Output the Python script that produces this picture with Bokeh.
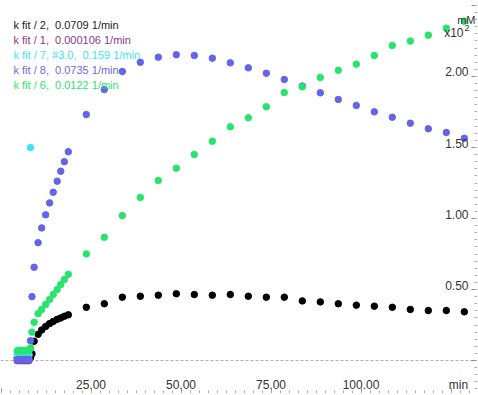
from bokeh.plotting import figure
from bokeh.models import LinearAxis, Range1d, Span, SingleIntervalTicker
from bokeh.core.properties import value
from bokeh.embed import file_html
from bokeh.resources import INLINE

FONT = "Liberation Sans"

# ---- data (time in min, concentration in mM x10^2) ----
t_flat = [4.5, 4.8, 5.1, 5.4, 5.7, 6.0, 6.3, 6.6, 6.9, 7.2, 7.5, 7.8]
t_main = [4.5, 4.8, 5.1, 5.4, 5.7, 6.0, 6.3, 6.6, 6.9, 7.2, 7.5, 7.8,
          8.2, 8.6, 9.2,
          10.3, 11.3, 12.4, 13.5, 14.5, 15.6, 16.6, 17.6, 18.7,
          23.7, 28.7, 33.7, 38.7, 43.7, 48.7, 53.7, 58.7, 63.7, 68.7, 73.7,
          78.7, 83.7, 88.7, 93.7, 98.7, 103.7, 108.7, 113.7, 118.7, 123.7, 128.7]

fit2_black = [0.02, 0.02, 0.02, 0.02, 0.02, 0.02, 0.02, 0.02, 0.02, 0.02, 0.02, 0.02,
              0.02, 0.047, 0.136,
              0.185, 0.215, 0.24, 0.26, 0.275, 0.29, 0.30, 0.312, 0.322,
              0.375, 0.40, 0.446, 0.453, 0.46, 0.47, 0.465, 0.46, 0.465, 0.453, 0.446,
              0.446, 0.42, 0.413, 0.40, 0.39, 0.383, 0.375, 0.36, 0.352, 0.352, 0.343]

fit8_blue = [0.005, 0.008, 0.006, 0.007, 0.008, 0.006, 0.007, 0.005, 0.008, 0.007, 0.006, 0.008,
             0.14, 0.45, 0.657,
             0.83, 0.934, 1.026, 1.11, 1.185, 1.263, 1.333, 1.40, 1.47,
             1.732, 1.908, 2.035, 2.10, 2.136, 2.153, 2.148, 2.129, 2.096, 2.061, 2.023,
             1.979, 1.933, 1.885, 1.838, 1.796, 1.751, 1.713, 1.671, 1.632, 1.606, 1.565]

fit6_green = [0.068, 0.071, 0.07, 0.069, 0.072, 0.07, 0.068, 0.071, 0.07, 0.069, 0.071, 0.07,
              0.09, 0.20, 0.27,
              0.33, 0.36, 0.395, 0.43, 0.465, 0.50, 0.535, 0.57, 0.607,
              0.751, 0.868, 1.021, 1.148, 1.268, 1.354, 1.451, 1.544, 1.646, 1.709, 1.787,
              1.887, 1.927, 1.993, 2.044, 2.087, 2.148, 2.218, 2.249, 2.291, 2.340, 2.389]

fit1_purple = [0.0, 0.0, 0.0, 0.0, 0.0, 0.0, 0.0, 0.0, 0.0, 0.0, 0.0, 0.0]

t_cyan = [4.5, 4.8, 5.1, 5.4, 5.7, 6.0, 6.3, 6.6, 6.9, 7.2, 7.5, 7.8, 8.2]
fit7_cyan = [0.04, 0.041, 0.039, 0.04, 0.042, 0.04, 0.039, 0.041, 0.04, 0.04, 0.041, 0.04, 1.50]

legend_texts = ["k fit / 2,\u00a0 0.0709 1/min",
                "k fit / 1,\u00a0 0.000106 1/min",
                "k fit / 7, #3.0,\u00a0 0.159 1/min",
                "k fit / 8,\u00a0 0.0735 1/min",
                "k fit / 6,\u00a0 0.0122 1/min"]
legend_colors = ["#1a1a1a", "#8a3a8a", "#3ce6f0", "#6a6ae6", "#2ee46e"]

y_ticks = [0.5, 1.0, 1.5, 2.0]
y_tick_labels = ["0.50", "1.00", "1.50", "2.00"]
x_ticks = [25, 50, 75, 100]
x_tick_labels = ["25.00", "50.00", "75.00", "100.00"]

# ---- figure ----
x_start, x_end = -0.14, 132.36
y_start, y_end = -0.232, 2.535

p = figure(frame_width=477, frame_height=393, output_backend="svg", toolbar_location=None,
           x_range=Range1d(x_start, x_end), y_range=Range1d(y_start, y_end),
           x_axis_location=None, y_axis_location=None, min_border=0,
           outline_line_color=None, background_fill_color="white", border_fill_color="white")
p.grid.visible = False

xaxis = LinearAxis(ticker=SingleIntervalTicker(interval=25, num_minor_ticks=10),
                   major_tick_in=5, major_tick_out=0, minor_tick_in=3, minor_tick_out=0,
                   major_label_text_font_size="1px", major_label_standoff=0,
                   major_label_text_color=None,
                   axis_line_color="#999999", major_tick_line_color="#888888",
                   minor_tick_line_color="#aaaaaa")
p.add_layout(xaxis, "below")

yaxis = LinearAxis(ticker=SingleIntervalTicker(interval=0.5, num_minor_ticks=10),
                   major_tick_in=6, major_tick_out=0, minor_tick_in=3, minor_tick_out=0,
                   major_label_text_font_size="1px", major_label_standoff=0,
                   major_label_text_color=None,
                   axis_line_color="#dddddd", major_tick_line_color="#888888",
                   minor_tick_line_color="#aaaaaa")
p.add_layout(yaxis, "right")

p.add_layout(Span(location=0, dimension="width", line_color="#a8a8cc",
                  line_dash="3 2", line_width=1, level="underlay"))

S = 6.5
p.scatter(t_main, fit2_black, size=S, fill_color="#000000", line_color="#000000")
p.scatter(t_flat, fit1_purple, size=S, fill_color="#8a3a8a", line_color="#8a3a8a")
p.scatter(t_cyan, fit7_cyan, size=S, fill_color="#3ce6f0", line_color="#3ce6f0")
p.scatter(t_main, fit8_blue, size=S, fill_color="#6464e8", line_color="#6464e8")
p.scatter(t_main, fit6_green, size=S, fill_color="#28e46e", line_color="#28e46e")

# tick labels drawn inside the frame
p.text(x=[x_end] * len(y_ticks), y=y_ticks, text=y_tick_labels, x_offset=-9, y_offset=-4.5,
       text_align="right", text_baseline="middle", text_font=value(FONT),
       text_font_size="12px", text_color="#333333")
p.text(x=x_ticks, y=[y_start] * len(x_ticks), text=x_tick_labels, y_offset=-9,
       text_align="center", text_baseline="middle", text_font=value(FONT),
       text_font_size="12px", text_color="#333333")

# axis titles
p.text(x=[x_end], y=[y_start], text=["min"], x_offset=-19, y_offset=-9,
       text_align="center", text_baseline="middle", text_font=value(FONT),
       text_font_size="12px", text_color="#333333")
p.text(x=[x_end], y=[y_end], text=["mM"], x_offset=-2, y_offset=19,
       text_align="right", text_baseline="middle", text_font=value(FONT),
       text_font_size="11px", text_color="#333333")
p.text(x=[x_end], y=[y_end], text=["x10"], x_offset=-14, y_offset=32.5,
       text_align="right", text_baseline="middle", text_font=value(FONT),
       text_font_size="12px", text_color="#333333")
p.text(x=[x_end], y=[y_end], text=["2"], x_offset=-13, y_offset=27,
       text_align="left", text_baseline="middle", text_font=value(FONT),
       text_font_size="9px", text_color="#333333")

# fit legend
p.text(x=[x_start] * 5, y=[y_end] * 5, text=legend_texts, text_color=legend_colors,
       x_offset=13, y_offset=[24, 39.3, 54.3, 69.3, 84.3],
       text_align="left", text_baseline="middle", text_font=value(FONT),
       text_font_size="11px")

open("out.html", "w").write(file_html(p, INLINE))
